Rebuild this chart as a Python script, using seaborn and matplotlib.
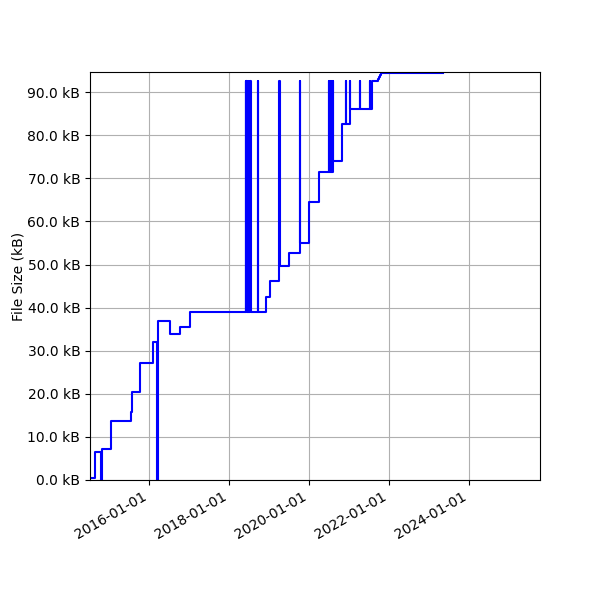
import pandas as pd
import seaborn as sns
import matplotlib
matplotlib.use("Agg")
import matplotlib.pyplot as plt
import matplotlib.dates as mdates
from matplotlib.ticker import FuncFormatter, MultipleLocator

# file size history (date of change, size in kB)
change_dates = [
    "2014-07-10", "2014-08-27", "2014-10-22", "2014-10-24", "2014-11-10",
    "2015-01-16", "2015-07-17", "2015-07-29", "2015-10-08", "2016-02-04",
    "2016-03-14", "2016-03-26", "2016-07-13", "2016-10-13", "2017-01-10",
    "2018-05-31", "2018-06-01", "2018-06-08", "2018-06-09", "2018-06-15",
    "2018-06-16", "2018-06-22", "2018-06-23", "2018-07-04", "2018-07-05",
    "2018-07-14", "2018-07-15", "2018-09-22", "2018-09-23", "2018-12-08",
    "2019-01-10", "2019-04-05", "2019-04-06", "2019-07-04", "2019-10-13",
    "2019-10-14", "2019-12-29", "2020-04-05", "2020-06-27", "2020-06-28",
    "2020-07-06", "2020-07-07", "2020-07-15", "2020-07-16", "2020-07-24",
    "2020-07-25", "2020-08-02", "2020-08-03", "2020-10-25", "2020-12-06",
    "2020-12-07", "2021-01-07", "2021-01-08", "2021-04-06", "2021-04-07",
    "2021-07-08", "2021-07-09", "2021-07-31", "2021-09-24", "2021-10-01",
    "2021-10-08", "2021-10-15", "2021-10-22", "2023-05-08",
]
sizes_kb = [
    0.5, 6.6, 0.0, 7.1, 7.3,
    13.8, 15.8, 20.4, 27.2, 32.1,
    0.0, 36.9, 34.0, 35.6, 39.0,
    92.7, 39.0, 92.7, 39.0, 92.7,
    39.0, 92.7, 39.0, 92.7, 39.0,
    92.7, 39.0, 92.7, 39.0, 42.5,
    46.2, 92.7, 49.6, 52.6, 92.7,
    55.0, 64.6, 71.4, 92.7, 71.4,
    92.7, 71.4, 92.7, 71.4, 92.7,
    71.4, 92.7, 74.1, 82.6, 92.7,
    82.6, 92.7, 86.0, 92.7, 86.0,
    92.7, 86.0, 92.6, 93.0, 93.5,
    93.9, 94.3, 94.4, 94.4,
]
x_end = "2025-10-10"
y_top = 94.7

df = pd.DataFrame({"date": pd.to_datetime(change_dates), "size": sizes_kb})

fig, ax = plt.subplots(figsize=(6, 6), dpi=100)
sns.lineplot(data=df, x="date", y="size", color="blue", linewidth=1.5,
             drawstyle="steps-post", estimator=None, sort=False, ax=ax)

ax.set_xlim(df["date"].iloc[0], pd.Timestamp(x_end))
ax.set_ylim(0, y_top)
ax.yaxis.set_major_locator(MultipleLocator(10))
ax.yaxis.set_major_formatter(FuncFormatter(lambda v, pos: f"{v:.1f} kB"))
ax.xaxis.set_major_locator(mdates.YearLocator(2))
ax.xaxis.set_major_formatter(mdates.DateFormatter("%Y-%m-%d"))

ax.set_xlabel("")
ax.set_ylabel("File Size (kB)", labelpad=1.5)
ax.grid(True)

fig.autofmt_xdate()
fig.subplots_adjust(left=0.15, right=0.9, top=0.88, bottom=0.2)
fig.savefig("out.png", dpi=100)
